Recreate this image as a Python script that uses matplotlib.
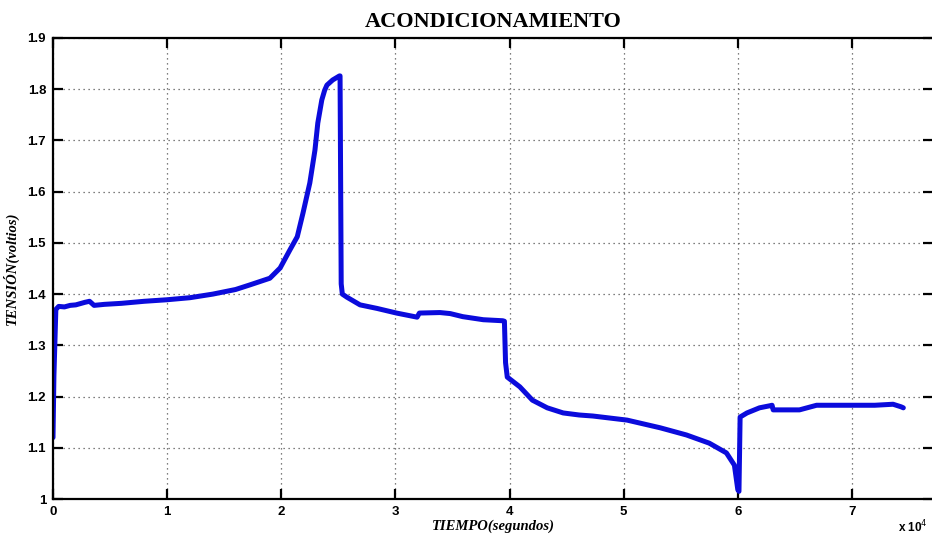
import matplotlib
matplotlib.use('Agg')
import matplotlib.pyplot as plt
import numpy as np

# Tension medida durante el acondicionamiento (tiempo en segundos)
tiempo = np.array([
    0, 80, 250, 500, 1000, 1500, 2000, 2800, 3200, 3600, 4500, 6000,
    8000, 10000, 12000, 14000, 16000, 17250, 19000, 19900, 20750, 21400,
    21900, 22500, 22950, 23200, 23550, 23800, 24000, 24500, 25100, 25150,
    25250, 25350, 25750, 26900, 28400, 30100, 31900, 32100, 33900, 34800,
    35900, 37700, 39400, 39550, 39650, 39800, 40900, 42000, 43300, 44700,
    46100, 47300, 50300, 53200, 55500, 57500, 59000, 59700, 60000, 60100,
    60200, 60800, 61900, 62800, 63000, 63100, 65400, 66900, 69800, 72000,
    73600, 74300, 74500,
])
tension = np.array([
    1.120, 1.240, 1.370, 1.376, 1.375, 1.378, 1.379, 1.384, 1.386, 1.378,
    1.380, 1.382, 1.386, 1.389, 1.393, 1.400, 1.409, 1.418, 1.431, 1.451,
    1.486, 1.512, 1.558, 1.617, 1.681, 1.734, 1.779, 1.798, 1.808, 1.818,
    1.826, 1.826, 1.420, 1.400, 1.394, 1.379, 1.372, 1.363, 1.355, 1.363,
    1.364, 1.362, 1.356, 1.350, 1.348, 1.347, 1.266, 1.238, 1.219, 1.193,
    1.178, 1.168, 1.164, 1.162, 1.154, 1.139, 1.125, 1.109, 1.090, 1.066,
    1.018, 1.015, 1.160, 1.168, 1.178, 1.182, 1.183, 1.174, 1.174, 1.183,
    1.183, 1.183, 1.185, 1.180, 1.178,
])

xticks = [0, 10000, 20000, 30000, 40000, 50000, 60000, 70000]
xtick_labels = ['0', '1', '2', '3', '4', '5', '6', '7']
yticks = [1.0, 1.1, 1.2, 1.3, 1.4, 1.5, 1.6, 1.7, 1.8, 1.9]
ytick_labels = ['1', '1.1', '1.2', '1.3', '1.4', '1.5', '1.6', '1.7', '1.8', '1.9']

fig = plt.figure(figsize=(9.32, 5.36), dpi=100)
ax = fig.add_axes([53 / 932, 37 / 536, 880 / 932, 461 / 536])

ax.plot(tiempo, tension, color='#0b0bdc', linewidth=3.6,
        solid_joinstyle='round', solid_capstyle='round')

ax.set_xlim(0, 77100)
ax.set_ylim(1.0, 1.9)
ax.set_xticks(xticks)
ax.set_xticklabels(xtick_labels)
ax.set_yticks(yticks)
ax.set_yticklabels(ytick_labels)

tick_font = {'family': 'Liberation Sans', 'weight': 'bold', 'size': 9.5}
for lbl in ax.get_xticklabels() + ax.get_yticklabels():
    lbl.set_fontproperties(matplotlib.font_manager.FontProperties(**tick_font))

ax.tick_params(direction='in', length=7, width=1.6, top=True, right=True,
               pad=5, colors='black')
for s in ax.spines.values():
    s.set_linewidth(1.6)

ax.grid(True, linestyle=(0, (1, 3)), color='#555555', linewidth=0.9)

ax.set_title('ACONDICIONAMIENTO', family='Liberation Serif', weight='bold',
             size=16, pad=8)
ax.set_xlabel('TIEMPO(segundos)', family='Liberation Serif', weight='bold',
              style='italic', size=10.5, labelpad=1)
ax.set_ylabel('TENSIÓN(voltios)', family='Liberation Serif', weight='bold',
              style='italic', size=10.5, labelpad=6)

# multiplicador del eje x
fig.text(928 / 932, 1 - 527 / 536, r'x 10$^{4}$', family='Liberation Sans',
         weight='bold', size=8.5, va='center', ha='right')

fig.savefig('out.png', dpi=100, facecolor='white')
